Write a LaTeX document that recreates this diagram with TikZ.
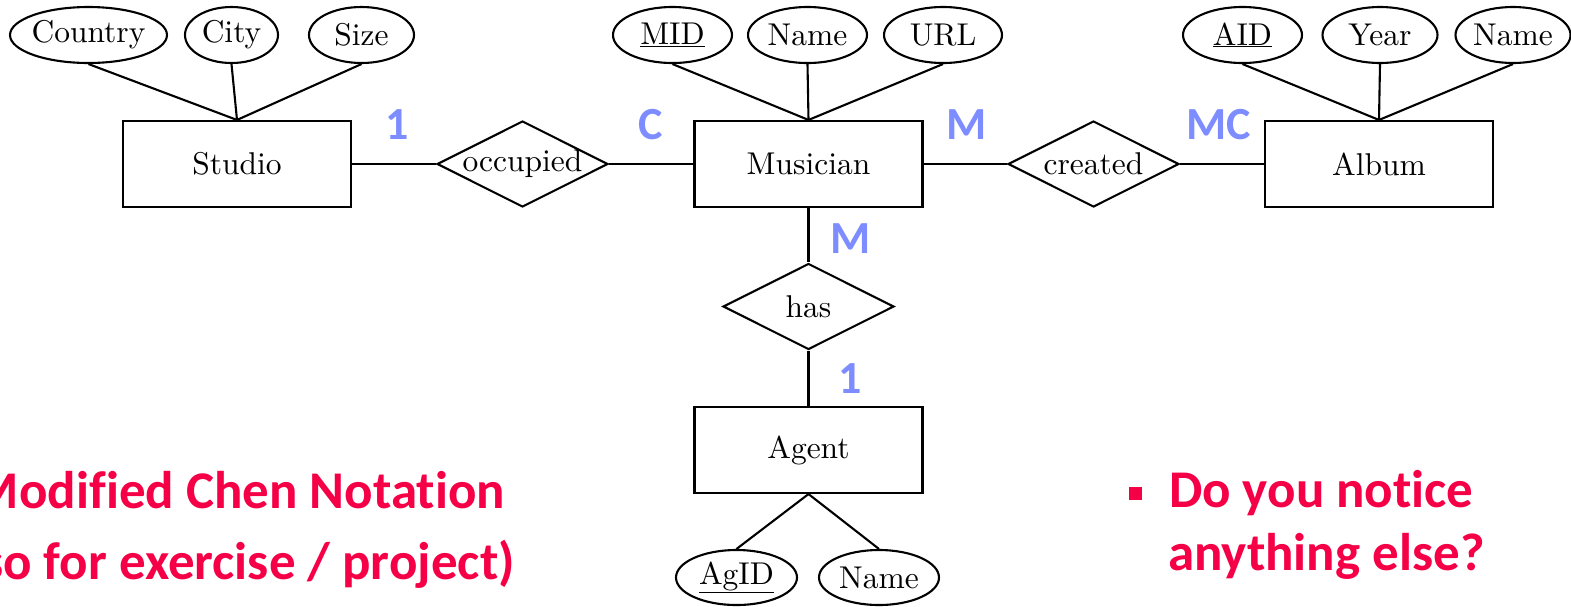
\documentclass[tikz,border=0pt]{standalone}
\usepackage{fontspec}
\setmainfont{lmroman10}[Extension=.otf, UprightFont=*-regular, BoldFont=*-bold, ItalicFont=*-italic]
\newfontfamily\calibri{Carlito}[Ligatures=NoCommon]
\usetikzlibrary{shapes.geometric}
\definecolor{cardblue}{RGB}{125,140,255}
\definecolor{notered}{RGB}{245,0,70}
\tikzset{
  entity/.style={draw, rectangle, minimum width=228, minimum height=86, inner sep=0},
  rel/.style={draw, diamond, minimum width=171, minimum height=86, inner sep=0},
  attr/.style={draw, ellipse, minimum height=56, inner sep=0},
  card/.style={text=cardblue, font=\calibri\bfseries\fontsize{46}{50}\selectfont, inner sep=0},
  note/.style={text=notered, font=\calibri\bfseries\fontsize{53}{60}\selectfont, inner sep=0}
}
\begin{document}
\begin{tikzpicture}[x=1pt, y=-1pt, line width=2.1pt, font=\fontsize{31.5}{36}\selectfont]
\useasboundingbox (0,0) rectangle (1571,606);
\begin{scope}
\clip (0,0) rectangle (1571,606);

% entities
\node[entity] (studio)   at (237,164)   {Studio};
\node[entity] (musician) at (808.5,164) {Musician};
\node[entity] (album)    at (1379,164)  {Album};
\node[entity] (agent)    at (808.5,450) {Agent};

% relationships
\node[rel, label=center:occupied] (occupied) at (522.5,164) {};
\node[rel, label=center:created]  (created)  at (1093.5,164) {};
\node[rel, label=center:has]      (has)      at (808.5,306.5) {};

% attributes of Studio
\node[attr, minimum width=157, label=center:Country] (country) at (88.5,35) {};
\node[attr, minimum width=93,  label=center:City]    (city)    at (231.5,35) {};
\node[attr, minimum width=105, label=center:Size]    (size)    at (361.5,35) {};

% attributes of Musician
\node[attr, minimum width=119, label=center:\underline{MID}] (mid)   at (672.5,35) {};
\node[attr, minimum width=119, label=center:Name]            (mname) at (807.5,35) {};
\node[attr, minimum width=118, label=center:URL]             (url)   at (943,35) {};

% attributes of Album
\node[attr, minimum width=119, label=center:\underline{AID}] (aid)   at (1242.5,35) {};
\node[attr, minimum width=115, label=center:Year]            (year)  at (1380,35) {};
\node[attr, minimum width=115, label=center:Name]            (aname) at (1513,35) {};

% attributes of Agent
\node[attr, minimum width=121, minimum height=55, label=center:\underline{AgID}] (agid)  at (736.5,577.5) {};
\node[attr, minimum width=120, minimum height=55, label=center:Name]             (gname) at (879,577.5) {};

% relationship lines
\draw (studio) -- (occupied) -- (musician);
\draw (musician) -- (created) -- (album);
\draw (musician) -- (has) -- (agent);

% attribute lines
\foreach \a in {country, city, size} \draw (\a.south) -- (studio.north);
\foreach \a in {mid, mname, url} \draw (\a.south) -- (musician.north);
\foreach \a in {aid, year, aname} \draw (\a.south) -- (album.north);
\foreach \a in {agid, gname} \draw (agent.south) -- (\a.north);

% cardinalities
\node[card] (k1) at (397,125)   {1};
\node[card] (k2) at (650.5,125) {C};
\node[card] (k3) at (966.5,125) {M};
\node[card] (k4) at (1219,125)  {MC};
\node[card] (k5) at (851,239)   {M};
\node[card] (k6) at (850,379)   {1};

% notes
\node[note, anchor=base east] (n1) at (506,508) {Modified Chen Notation};
\node[note, anchor=base east] (n2) at (516,579) {(also for exercise / project)};
\node[fill=notered, minimum size=13, inner sep=0] (bullet) at (1135.5,493) {};
\node[note, anchor=base west] (q1) at (1168,507) {Do you notice};
\node[note, anchor=base west] (q2) at (1167,570) {anything else?};
\end{scope}
\end{tikzpicture}
\end{document}
